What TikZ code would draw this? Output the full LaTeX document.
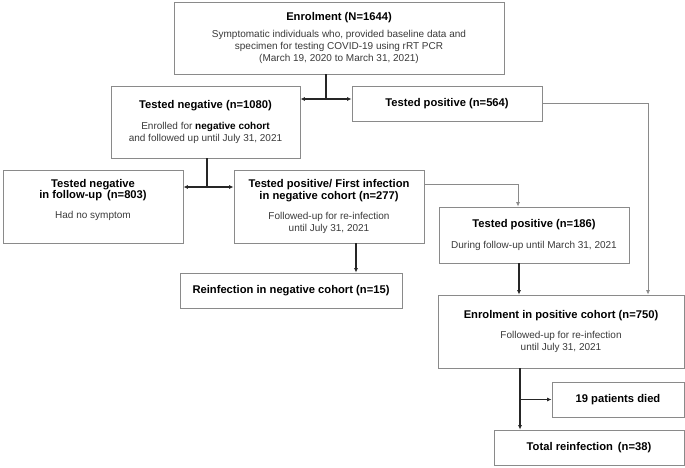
\documentclass[tikz,border=0pt]{standalone}
\usepackage{fontspec}
\setmainfont{Liberation Sans}
\usetikzlibrary{arrows.meta}
\definecolor{boxgray}{HTML}{8A8A8A}
\definecolor{txtgray}{HTML}{3A3A3A}
\definecolor{darkline}{HTML}{262626}
\newcommand\ttl[1]{{\color{black}\fontsize{11.2}{13.5}\selectfont\bfseries #1}}
\tikzset{
  box/.style={draw=boxgray, line width=0.8pt, fill=white, inner sep=0pt, align=center,
    font=\fontsize{10}{11.8}\selectfont, text=txtgray},
  darkarrow/.style={draw=darkline, line width=1.2pt, -{Latex[length=4.5pt,width=4pt]}},
  darkplain/.style={draw=darkline, line width=1.2pt},
  grayarrow/.style={draw=boxgray, line width=0.8pt, -{Latex[length=4.5pt,width=4pt]}, color=boxgray},
}
\begin{document}
\begin{tikzpicture}[x=1pt,y=-1pt]
\useasboundingbox (0,0) rectangle (685,467);

\node[box, minimum width=330pt, minimum height=72pt] (enrol) at (339,38)
  {\ttl{Enrolment (N=1644)}\\[5pt]
   Symptomatic individuals who, provided baseline data and\\
   specimen for testing COVID-19 using rRT PCR\\
   (March 19, 2020 to March 31, 2021)};

\node[box, minimum width=189pt, minimum height=72pt] (neg) at (205.5,122)
  {\ttl{Tested negative (n=1080)}\\[9pt]
   Enrolled for {\color{black}\bfseries negative cohort}\\
   and followed up until July 31, 2021};

\node[box, minimum width=190pt, minimum height=35pt] (pos) at (447,103.5)
  {\ttl{Tested positive (n=564)}};

\node[box, minimum width=180pt, minimum height=73pt] (negfu) at (93,206.5)
  {\ttl{Tested negative}\\ \ttl{in follow-up \,(n=803)}\\[8pt]
   Had no symptom\\ \strut};

\node[box, minimum width=190pt, minimum height=73pt] (first) at (329,206.5)
  {\ttl{Tested positive/ First infection}\\ \ttl{in negative cohort (n=277)}\\[8pt]
   Followed-up for re-infection\\ until July 31, 2021};

\node[box, minimum width=222pt, minimum height=35pt] (reneg) at (291,290.5)
  {\ttl{Reinfection in negative cohort (n=15)}};

\node[box, minimum width=190pt, minimum height=56pt] (p186) at (534,235)
  {\ttl{Tested positive (n=186)}\\[9pt]
   During follow-up until March 31, 2021};

\node[box, minimum width=246pt, minimum height=73pt] (p750) at (561,331.5)
  {\ttl{Enrolment in positive cohort (n=750)}\\[8pt]
   Followed-up for re-infection\\ until July 31, 2021};

\node[box, minimum width=132pt, minimum height=35pt] (died) at (618,399.5)
  {\ttl{19 patients died}};

\node[box, minimum width=190pt, minimum height=35pt] (total) at (589,447.5)
  {\ttl{Total reinfection \,(n=38)}};

% connectors
\coordinate (j1) at (326,99);
\draw[darkplain] (enrol.south -| j1) -- (j1);
\draw[darkarrow] (j1) -- (neg.east |- j1);
\draw[darkarrow] (j1) -- (pos.west |- j1);

\coordinate (j2) at (207,187);
\draw[darkplain] (neg.south -| j2) -- (j2);
\draw[darkarrow] (j2) -- (negfu.east |- j2);
\draw[darkarrow] (j2) -- (first.west |- j2);

\coordinate (c3) at (648,103.5);
\draw[grayarrow] (pos.east) -- (c3) -- (c3 |- p750.north);

\coordinate (c4) at (518,184);
\draw[grayarrow] (first.east |- c4) -- (c4) -- (c4 |- p186.north);

\coordinate (c5) at (356,250);
\draw[darkarrow] (c5 |- first.south) -- (c5 |- reneg.north);

\coordinate (c6) at (519,280);
\draw[darkarrow] (c6 |- p186.south) -- (c6 |- p750.north);

\coordinate (c7) at (520,399.5);
\draw[darkarrow] (c7 |- p750.south) -- (c7 |- total.north);
\draw[darkarrow] (c7) -- (died.west);
\end{tikzpicture}
\end{document}
